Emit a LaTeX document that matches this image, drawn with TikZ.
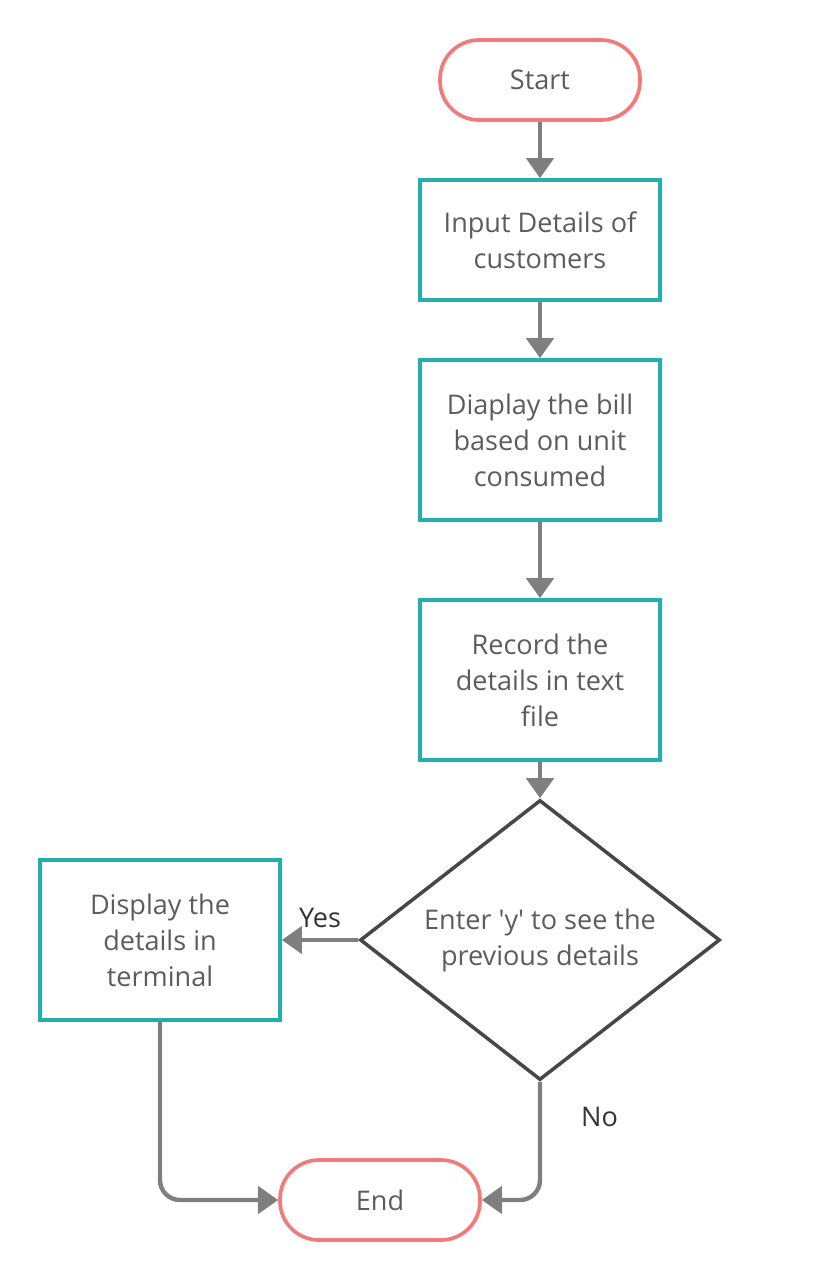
\documentclass[tikz,border=0pt]{standalone}
\usepackage{fontspec}
\setmainfont{Open Sans}
\usetikzlibrary{shapes.geometric,arrows.meta}
\definecolor{termred}{HTML}{F47A7A}
\definecolor{boxteal}{HTML}{22B0AC}
\definecolor{linegray}{HTML}{7F7F7F}
\definecolor{textgray}{HTML}{5C5C5C}
\definecolor{diagray}{HTML}{474747}
\tikzset{
  term/.style={draw=termred, line width=2.1pt, rounded corners=0.78cm,
    minimum width=4cm, minimum height=1.6cm, text=textgray},
  proc/.style={draw=boxteal, line width=2.1pt, minimum width=4.8cm,
    minimum height=3.2cm, align=center, text=textgray},
  decide/.style={draw=diagray, diamond, line width=2pt, aspect=1.286,
    minimum width=7.2cm, minimum height=5.6cm, inner sep=0pt,
    align=center, text=textgray},
  flow/.style={draw=linegray, line width=2.5pt,
    -{Triangle[length=0.4cm,width=0.54cm]}},
  tag/.style={inner sep=0pt, text=black!80}
}
\begin{document}
\begin{tikzpicture}[font=\fontsize{15.4}{20.5}\selectfont]
        \useasboundingbox (0,0) rectangle (16.8,-25.6);

        \node[term] (start) at (10.8,-1.6) {Start};
        \node[proc, minimum height=2.4cm] (input) at (10.8,-4.8)
            {Input Details of\\customers};
        \node[proc] (bill) at (10.8,-8.8)
            {Diaplay the bill\\based on unit\\consumed};
        \node[proc] (record) at (10.8,-13.6)
            {Record the\\details in text\\file};
        \node[decide] (ask) at (10.8,-18.8)
            {Enter \textquotesingle y\textquotesingle\ to see the\\previous details};
        \node[proc] (show) at (3.2,-18.8)
            {Display the\\details in\\terminal};
        \node[term] (stop) at (7.6,-24) {End};

        \draw[flow] (start) -- (input);
        \draw[flow] (input) -- (bill);
        \draw[flow] (bill) -- (record);
        \draw[flow] (record) -- (ask);
        \draw[flow] (ask) -- node[tag, above=0.2cm] (yes) {Yes} (show);
        \draw[flow, rounded corners=0.4cm] (show.south) |- (stop.west);
        \draw[flow, rounded corners=0.4cm] (ask.south) |-
            node[tag, pos=0.15, anchor=west, xshift=0.78cm] (no) {No} (stop.east);

    \end{tikzpicture}
\end{document}
